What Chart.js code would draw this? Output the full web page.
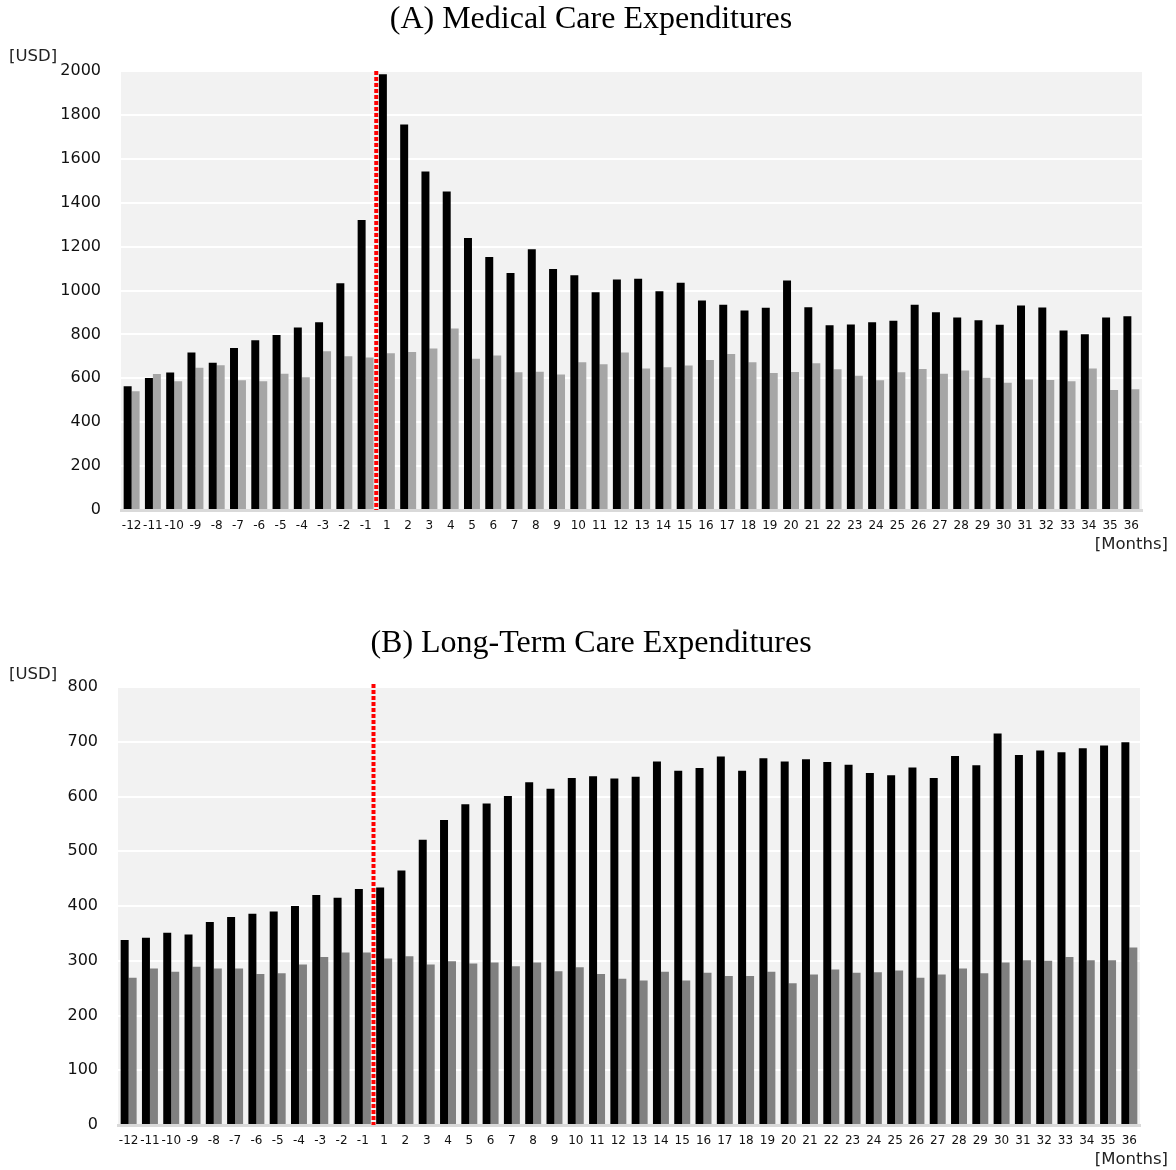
<!DOCTYPE html>
<html>
<head>
<meta charset="utf-8">
<script src="https://cdn.jsdelivr.net/npm/chart.js@4/dist/chart.umd.min.js"></script>
<style>
  body { margin: 0; background: #fff; }
  .box { position: absolute; left: 0; width: 1176px; }
  #boxA { top: 0; height: 575px; }
  #boxB { top: 600px; height: 570px; }
</style>
</head>
<body>
<div class="box" id="boxA"><canvas id="medicalChart"></canvas></div>
<div class="box" id="boxB"><canvas id="ltcChart"></canvas></div>
<script>
// month labels relative to the event
var months = ["-12","-11","-10","-9","-8","-7","-6","-5","-4","-3","-2","-1",
  "1","2","3","4","5","6","7","8","9","10","11","12","13","14","15","16","17","18",
  "19","20","21","22","23","24","25","26","27","28","29","30","31","32","33","34","35","36"];

// (A) medical care, USD
var medicalBlack = [564,601,626,717,671,738,773,797,832,855,1033,1321,
  1985,1756,1542,1451,1239,1153,1080,1188,1098,1070,992,1050,1053,997,1035,955,935,909,
  921,1045,924,842,845,855,862,935,901,877,865,844,932,923,818,801,877,883];
var medicalGray = [541,620,586,648,659,591,586,621,605,723,701,695,
  714,720,736,827,689,704,627,630,617,673,664,717,645,650,658,683,711,673,
  624,629,668,641,612,591,627,642,621,636,603,580,594,592,586,645,547,550];

// (B) long-term care, USD
var ltcBlack = [338,342,351,348,371,380,386,390,400,420,415,431,
  434,465,521,557,586,587,601,626,614,634,637,633,636,664,647,652,673,647,
  670,664,668,663,658,643,639,653,634,674,657,715,676,684,681,688,693,699];
var ltcGray = [269,286,280,289,286,286,276,277,293,307,315,315,
  304,308,293,299,295,297,290,297,281,288,276,267,264,280,264,278,272,272,
  280,259,275,284,278,279,282,269,275,286,277,297,301,300,307,301,301,324];

var tickFont = "'DejaVu Sans', Verdana, sans-serif";
var titleFont = "32px 'Liberation Serif', 'Times New Roman', serif";

var decorPlugin = {
  id: "decor",
  beforeDraw: function (chart) {
    var ctx = chart.ctx, a = chart.chartArea;
    ctx.save();
    ctx.fillStyle = "#f2f2f2";
    ctx.fillRect(a.left, a.top, a.right - a.left, a.bottom - a.top);
    ctx.restore();
  },
  afterDatasetsDraw: function (chart) {
    var ctx = chart.ctx, a = chart.chartArea, x = chart.scales.x;
    var o = chart.options.plugins.decor;
    var lx = (x.getPixelForValue(11) + x.getPixelForValue(12)) / 2;
    ctx.save();
    // red dotted marker between month -1 and month 1
    ctx.strokeStyle = "#ff0000";
    ctx.lineWidth = 4;
    ctx.setLineDash([4, 2]);
    ctx.beginPath();
    ctx.moveTo(lx, a.top + o.lineTop);
    ctx.lineTo(lx, a.bottom);
    ctx.stroke();
    ctx.setLineDash([]);
    // title
    ctx.fillStyle = "#000";
    ctx.font = titleFont;
    ctx.textAlign = "center";
    ctx.textBaseline = "middle";
    ctx.fillText(o.title, 591, o.titleY);
    // axis units
    ctx.fillStyle = "#222";
    ctx.font = "16.5px " + tickFont;
    ctx.textAlign = "left";
    ctx.fillText("[USD]", 9, o.usdY);
    ctx.textAlign = "right";
    ctx.fillText("[Months]", 1168, o.monthsY);
    ctx.restore();
  }
};

function makeConfig(title, blackData, grayData, grayColor, yMax, yStep, lay) {
  return {
    type: "bar",
    data: {
      labels: months,
      datasets: [
        { label: "black", data: blackData, backgroundColor: "#000000",
          categoryPercentage: 0.75, barPercentage: 1.0 },
        { label: "gray", data: grayData, backgroundColor: grayColor,
          categoryPercentage: 0.75, barPercentage: 1.0 }
      ]
    },
    options: {
      responsive: true,
      maintainAspectRatio: false,
      animation: false,
      layout: { padding: { left: 0, right: lay.right, top: lay.top, bottom: 0 } },
      plugins: {
        legend: { display: false },
        tooltip: { enabled: false },
        title: { display: false },
        decor: { title: title, titleY: lay.titleY, lineTop: lay.lineTop, usdY: lay.usdY, monthsY: lay.monthsY }
      },
      scales: {
        x: {
          grid: { display: false, drawTicks: false },
          border: { display: true, color: "#d9d9d9", width: 3 },
          ticks: { color: "#111", autoSkip: false, maxRotation: 0, minRotation: 0,
            padding: 9, font: { family: tickFont, size: 12 } },
          afterFit: function (s) { s.height = lay.xHeight; }
        },
        y: {
          min: 0, max: yMax,
          grid: { color: "#ffffff", lineWidth: 2, drawTicks: false },
          border: { display: false },
          ticks: { stepSize: yStep, color: "#111", padding: 20,
            font: { family: tickFont, size: 16 },
            callback: function (v) { return String(v); } },
          afterFit: function (s) { s.width = lay.left; }
        }
      }
    },
    plugins: [decorPlugin]
  };
}

var configA = makeConfig("(A) Medical Care Expenditures", medicalBlack, medicalGray, "#a6a6a6", 2000, 200,
  { left: 121, right: 34, top: 71, titleY: 20, xHeight: 65, lineTop: 0, usdY: 57, monthsY: 545 });
var configB = makeConfig("(B) Long-Term Care Expenditures", ltcBlack, ltcGray, "#808080", 800, 100,
  { left: 118, right: 36, top: 87, titleY: 44, xHeight: 45, lineTop: -3, usdY: 75, monthsY: 560 });

var medicalChart = new Chart(document.getElementById("medicalChart"), configA);
var ltcChart = new Chart(document.getElementById("ltcChart"), configB);
</script>
</body>
</html>
